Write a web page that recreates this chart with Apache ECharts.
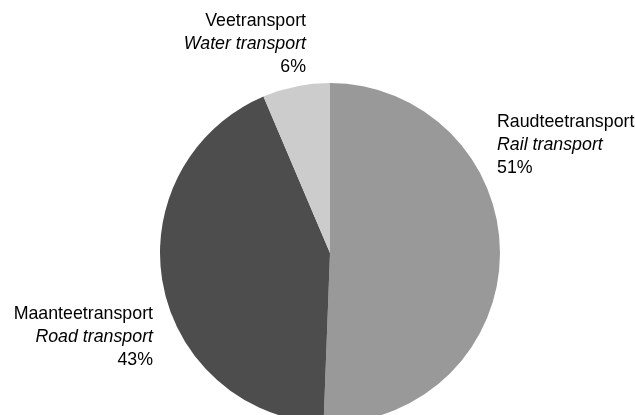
<!DOCTYPE html>
<html>
<head>
<meta charset="utf-8">
<script src="https://cdn.jsdelivr.net/npm/echarts@6/dist/echarts.min.js"></script>
<style>html,body{margin:0;padding:0;background:#fff}#c{width:635px;height:415px}</style>
</head>
<body>
<div id="c"></div>
<script>
var namesEt = ['Raudteetransport', 'Maanteetransport', 'Veetransport'];
var namesEn = ['Rail transport', 'Road transport', 'Water transport'];
var shares = [50.6, 43.0, 6.4];
var colors = ['#999999', '#4d4d4d', '#cccccc'];

var labelPos = [
  {x: 497, y: 145, align: 'left'},
  {x: 153, y: 337, align: 'right'},
  {x: 306, y: 44, align: 'right'}
];

var FONT = 'Liberation Sans, Arial, sans-serif';
var FS = 17.8;
var chart = echarts.init(document.getElementById('c'));
var data = shares.map(function (v, i) {
  return {
    value: v,
    name: namesEt[i],
    itemStyle: {color: colors[i]},
    label: {align: labelPos[i].align}
  };
});
chart.setOption({
  animation: false,
  series: [{
    type: 'pie',
    center: [330, 253],
    radius: 170,
    startAngle: 90,
    clockwise: true,
    data: data,
    itemStyle: {borderWidth: 0},
    emphasis: {disabled: true},
    labelLine: {show: false},
    label: {
      show: true,
      position: 'outside',
      alignTo: 'none',
      overflow: 'none',
      fontFamily: FONT,
      fontSize: FS,
      color: '#000',
      lineHeight: 23,
      formatter: function (p) {
        return '{a|' + namesEt[p.dataIndex] + '}\n{b|' + namesEn[p.dataIndex] + '}\n{a|' + Math.round(p.value) + '%}';
      },
      rich: {
        a: {fontFamily: FONT, fontSize: FS, color: '#000', lineHeight: 23},
        b: {fontFamily: FONT, fontSize: FS, color: '#000', lineHeight: 23, fontStyle: 'italic'}
      }
    },
    labelLayout: function (params) {
      var p = labelPos[params.dataIndex];
      return {x: p.x, y: p.y, align: p.align, verticalAlign: 'middle'};
    }
  }]
});
</script>
</body>
</html>
